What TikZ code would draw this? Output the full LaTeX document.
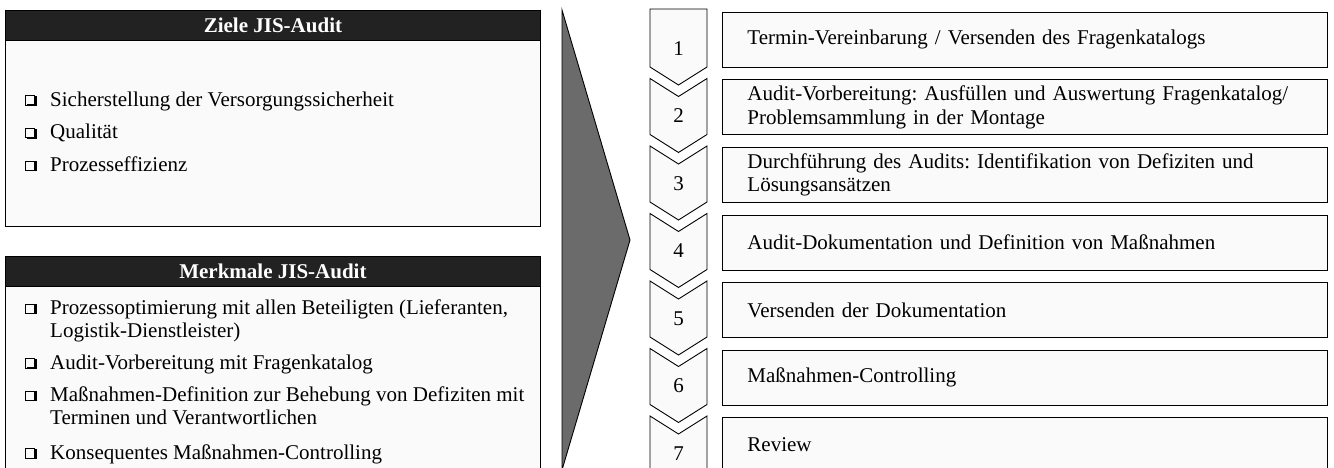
\documentclass[tikz,border=0pt]{standalone}
\usepackage{fontspec}
\setmainfont{Liberation Serif}
\usetikzlibrary{positioning}
\definecolor{boxfill}{HTML}{FAFAFA}
\definecolor{headfill}{HTML}{222222}
\definecolor{wedgefill}{HTML}{6B6B6B}
\newcommand\bx{\makebox[25pt][l]{%
  \rlap{\setlength\fboxsep{0pt}\setlength\fboxrule{0.8pt}\raisebox{1.5pt}{\fbox{\rule{0pt}{8.4pt}\rule{8.4pt}{0pt}}}}%
  \rlap{\hspace{10pt}\raisebox{0pt}{\rule{1.6pt}{10pt}}}%
  \rlap{\hspace{1.6pt}\raisebox{0pt}{\rule{10pt}{1.6pt}}}}}
\newcommand\hang{\hspace*{25pt}}
\frenchspacing

\begin{document}
\begin{tikzpicture}[x=1pt,y=-1pt,
    font=\fontsize{21}{23.5}\selectfont,
    panel/.style={draw, fill=boxfill, line width=0.9pt},
    head/.style={draw, fill=headfill, line width=0.9pt, text=white,
      font=\fontsize{21}{23.5}\selectfont\bfseries, inner sep=0pt,
      minimum width=535pt, minimum height=30pt, anchor=north west},
    item/.style={anchor=west, align=left, inner sep=0pt},
    stepbox/.style={draw, fill=boxfill, line width=0.9pt, anchor=north west,
      minimum width=605pt, minimum height=55pt, text width=555pt,
      align=left, inner sep=0pt, inner xsep=25pt},
    chev/.style={draw, fill=boxfill, line width=0.9pt}]
  \useasboundingbox (0,0) rectangle (1334,468);

  \draw[panel] (5,10) rectangle (540,226);
  \node[head] (zhead) at (5,10) {Ziele JIS-Audit};
  \node[item] (z1) at (25,101) {\bx Sicherstellung der Versorgungssicherheit};
  \node[item] (z2) at (25,133) {\bx Qualität};
  \node[item] (z3) at (25,164) {\bx Prozesseffizienz};

  \draw[panel] (5,256) rectangle (540,475);
  \node[head] (mhead) at (5,256) {Merkmale JIS-Audit};
  \node[item] (m1) at (25,321) {\bx Prozessoptimierung mit allen Beteiligten (Lieferanten,\\
    \hang Logistik-Dienstleister)};
  \node[item] (m2) at (25,364) {\bx Audit-Vorbereitung mit Fragenkatalog};
  \node[item] (m3) at (25,406) {\bx Maßnahmen-Definition zur Behebung von Defiziten mit\\
    \hang Terminen und Verantwortlichen};
  \node[item] (m4) at (25,454) {\bx Konsequentes Maßnahmen-Controlling};

  \draw[fill=wedgefill, line width=0.9pt] (562,10) -- (630,240) -- (562,470) -- cycle;

  \foreach \txt [count=\i] in {Termin-Vereinbarung / Versenden des Fragenkatalogs,
      Audit-Vorbereitung: Ausfüllen und Auswertung Fragenkatalog/\\Problemsammlung in der Montage,
      Durchführung des Audits: Identifikation von Defiziten und\\Lösungsansätzen,
      Audit-Dokumentation und Definition von Maßnahmen,
      Versenden der Dokumentation,
      Maßnahmen-Controlling,
      Review} {
    \pgfmathsetmacro\t{12+67.5*(\i-1)}
    \pgfmathsetmacro\b{\t+55}
    \ifnum\i=1
      \draw[chev] (650,9) -- (707,9) -- (707,\b) -- (678.5,\b+18) -- (650,\b) -- cycle;
    \else
      \draw[chev] (650,\t-1) -- (678.5,\t+17) -- (707,\t-1) -- (707,\b)
        -- (678.5,\b+18) -- (650,\b) -- cycle;
    \fi
    \node (n\i) at (678.5,\t+36.5) {\i};
    \node[stepbox] (s\i) at (722,\t) {\txt};
  }
\end{tikzpicture}
\end{document}
